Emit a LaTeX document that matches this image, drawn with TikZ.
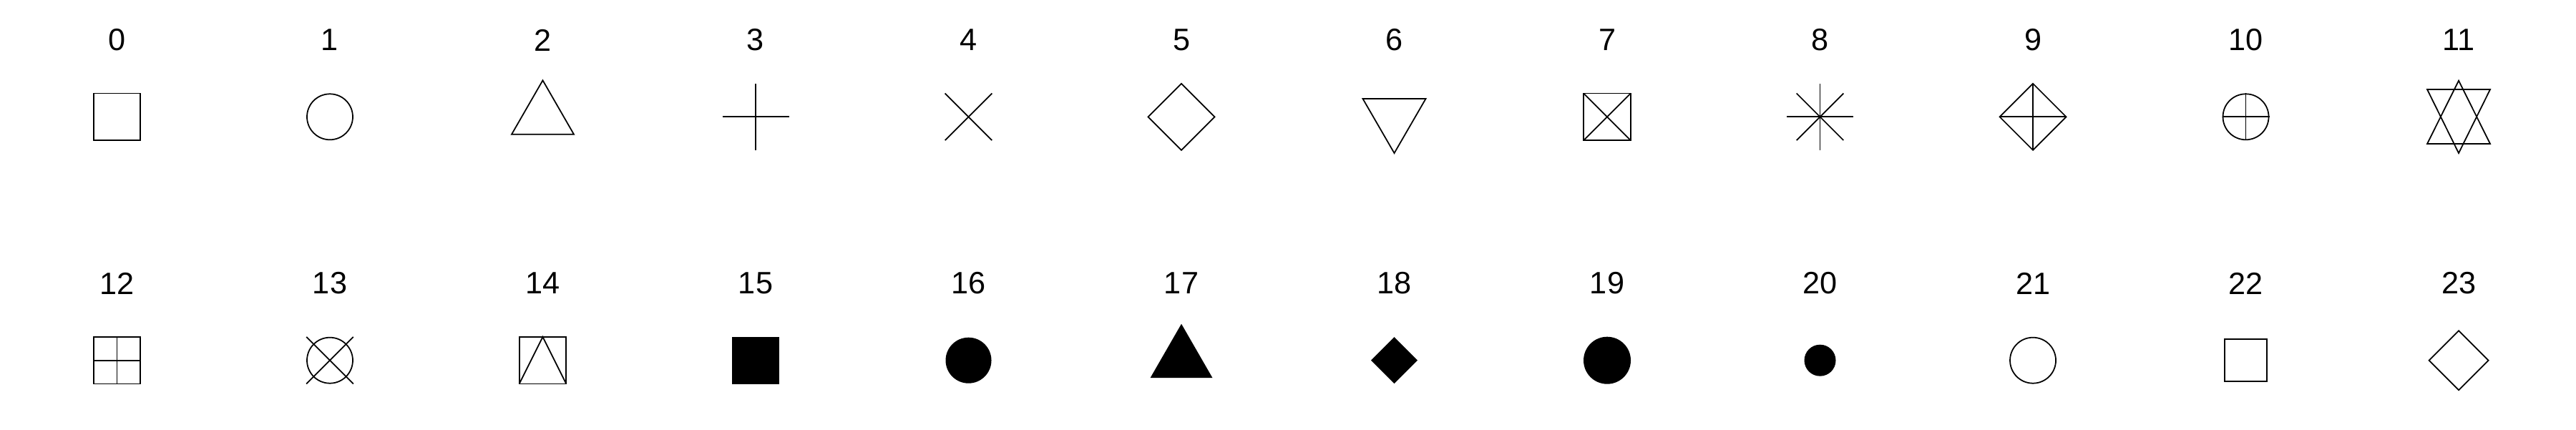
\documentclass[tikz,border=0pt]{standalone}
\usepackage{fontspec}
\setmainfont{Liberation Sans}
\tikzset{
  sym/.style = {draw, line width=0.5pt},
  symfill/.style = {fill=black},
  pics/box/.style = {code={\path[pic actions] (-#1,-#1) rectangle (#1,#1);}},
  pics/box/.default = .328,
  pics/ring/.style = {code={\path[pic actions] (0,0) circle (#1);}},
  pics/ring/.default = .32,
  pics/rhomb/.style = {code={\path[pic actions] (0,#1) -- (#1,0) -- (0,-#1) -- (-#1,0) -- cycle;}},
  pics/rhomb/.default = .465,
  pics/plus/.style = {code={\path[pic actions] (-#1,0) -- (#1,0) (0,-#1) -- (0,#1);}},
  pics/plus/.default = .465,
  pics/times/.style = {code={\path[pic actions] (-#1,-#1) -- (#1,#1) (-#1,#1) -- (#1,-#1);}},
  pics/times/.default = .328,
  pics/tri/.style = {code={\path[pic actions] (0,.51) -- (.435,-.245) -- (-.435,-.245) -- cycle;}},
  pics/trid/.style = {code={\path[pic actions] (0,-.507) -- (.44,.253) -- (-.44,.253) -- cycle;}}
}
\begin{document}
\begin{tikzpicture}[x=1cm,y=1cm,
  every node/.style = {font=\fontsize{12.3}{14}\selectfont, inner sep=0pt}]
\useasboundingbox (0,0) rectangle (36,6);
% labels and symbol centres
\foreach \i in {0,...,11} {
  \node (l\i) at ({1.635+2.975*\i},5.44) {\i};
  \coordinate (p\i) at ({1.635+2.975*\i},4.367);
}
\foreach \i in {12,...,23} {
  \node (l\i) at ({1.635+2.975*(\i-12)},2.04) {\i};
  \coordinate (p\i) at ({1.635+2.975*(\i-12)},.963);
}
% top row
\pic[sym] at (p0) {box};
\pic[sym] at (p1) {ring};
\pic[sym] at (p2) {tri};
\pic[sym] at (p3) {plus};
\pic[sym] at (p4) {times};
\pic[sym] at (p5) {rhomb};
\pic[sym] at (p6) {trid};
\pic[sym] at (p7) {box}; \pic[sym] at (p7) {times};
\pic[sym] at (p8) {plus}; \pic[sym] at (p8) {times};
\pic[sym] at (p9) {rhomb}; \pic[sym] at (p9) {plus};
\pic[sym] at (p10) {ring}; \pic[sym] at (p10) {plus=.33};
\draw[line width=0.5pt] (p11) ++(0,.506) -- ++(.44,-.883) -- ++(-.88,0) -- cycle
  (p11) ++(0,-.507) -- ++(.44,.89) -- ++(-.88,0) -- cycle;
% bottom row
\pic[sym] at (p12) {box}; \pic[sym] at (p12) {plus=.328};
\pic[sym] at (p13) {ring}; \pic[sym] at (p13) {times};
\pic[sym] at (p14) {box};
\draw[line width=0.5pt] (p14) ++(-.328,-.328) -- ++(.328,.656) -- ++(.328,-.656);
\pic[symfill] at (p15) {box};
\pic[symfill] at (p16) {ring};
\pic[symfill] at (p17) {tri};
\pic[symfill] at (p18) {rhomb=.325};
\pic[symfill] at (p19) {ring=.33};
\pic[symfill] at (p20) {ring=.22};
\pic[sym] at (p21) {ring};
\pic[sym] at (p22) {box=.295};
\pic[sym] at (p23) {rhomb=.415};
\end{tikzpicture}
\end{document}
